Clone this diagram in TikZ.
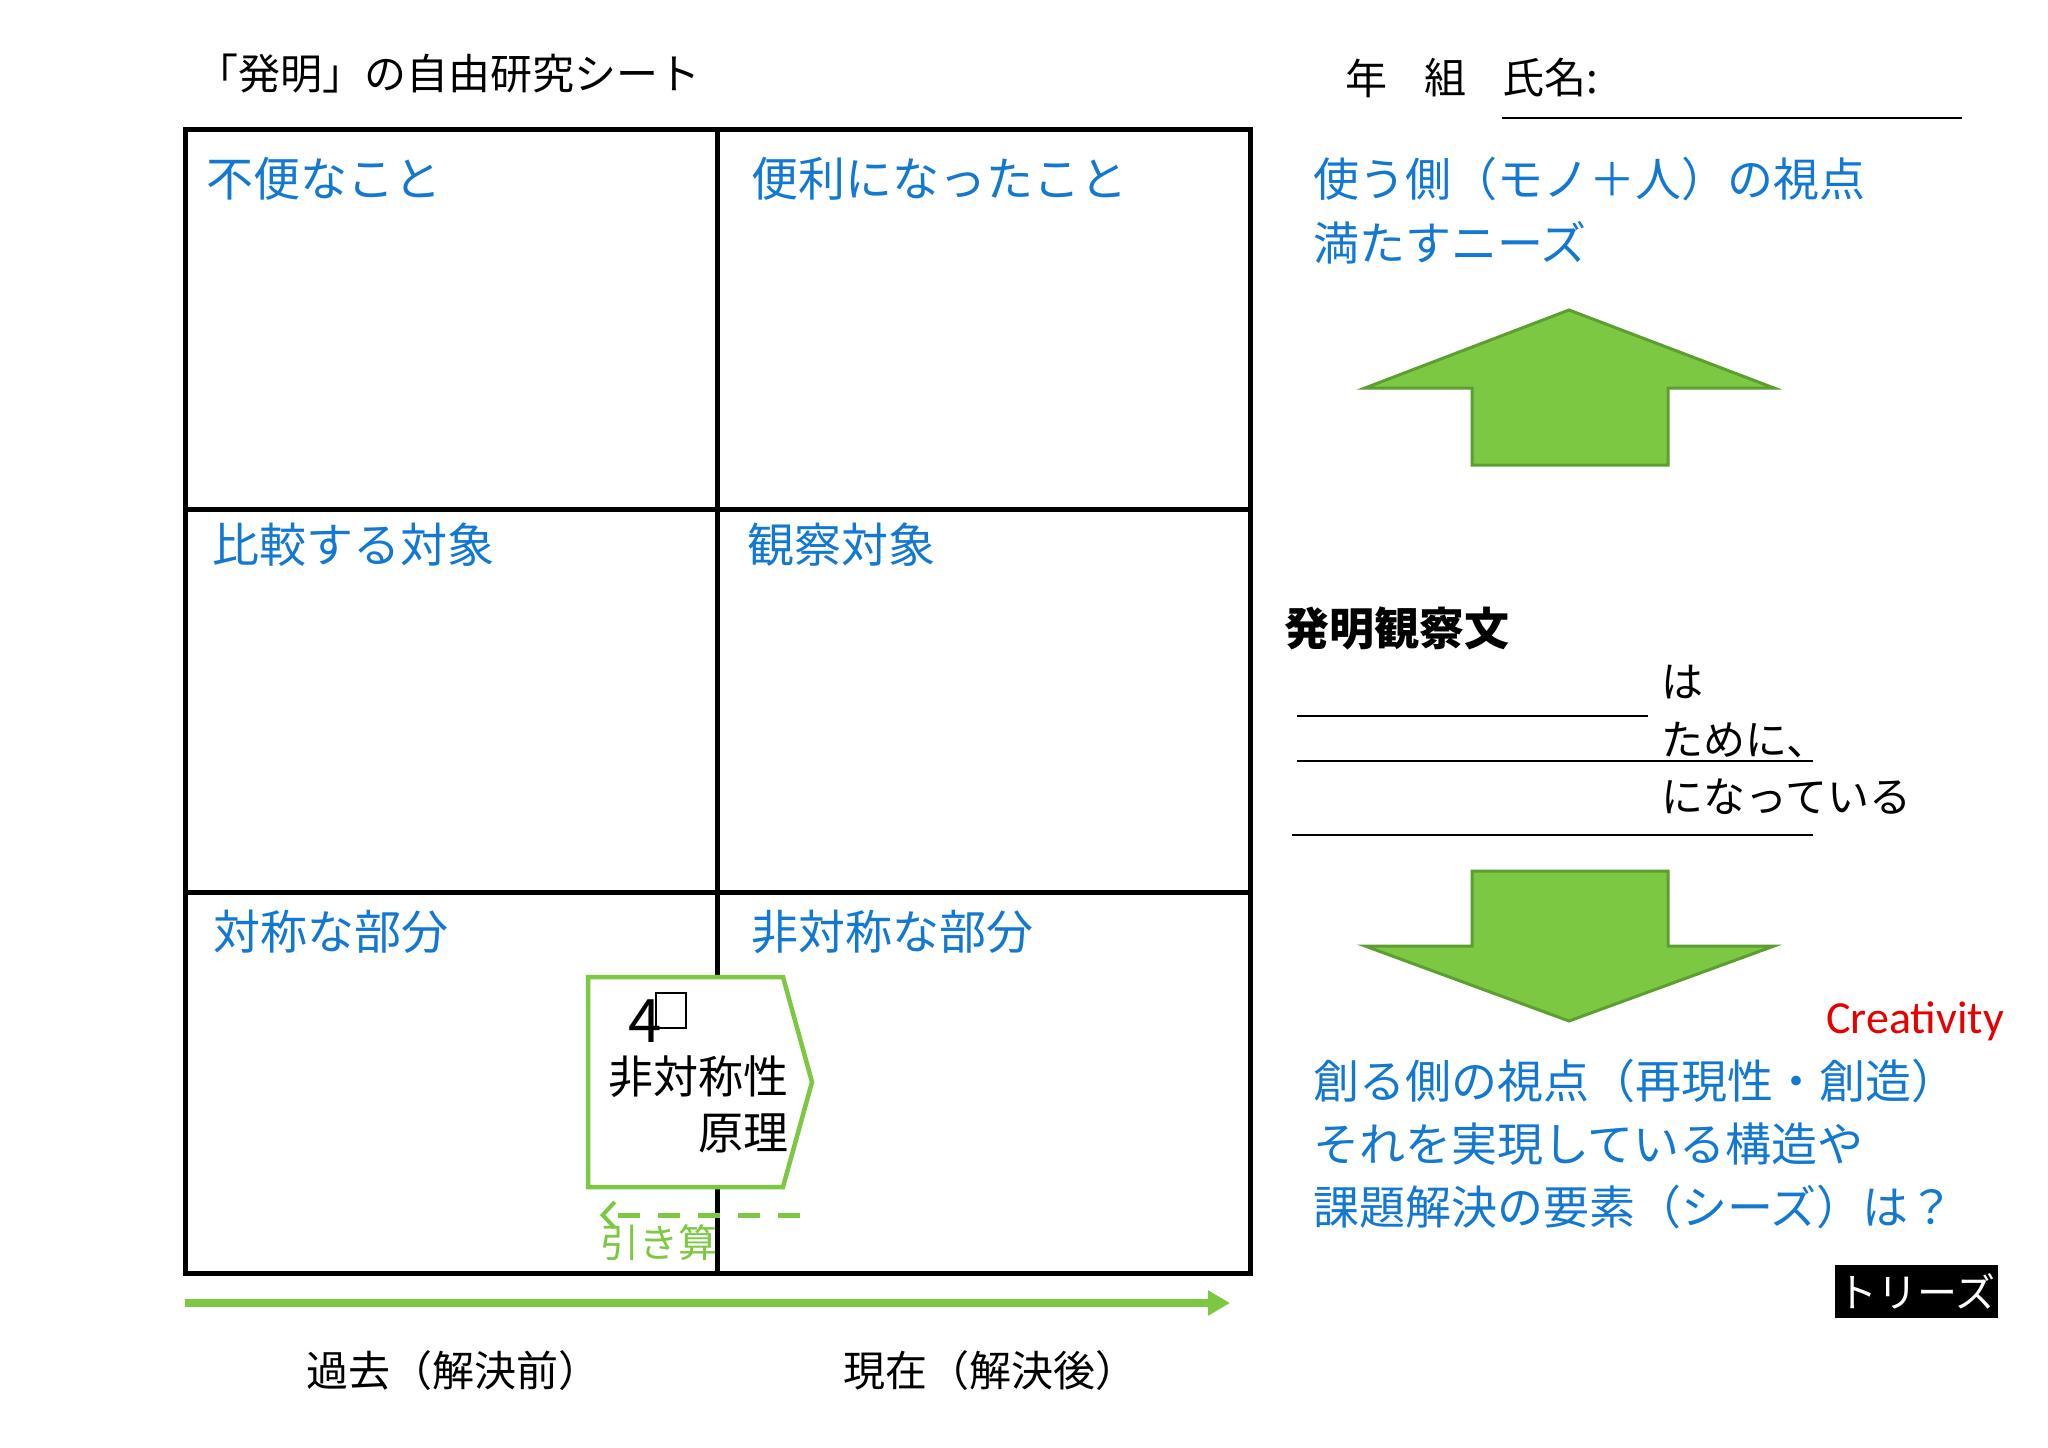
\documentclass[tikz,border=0pt]{standalone}
\usepackage{fontspec}
\setmainfont{Noto Sans CJK JP}
\newfontfamily\latinfont{Carlito}
\usetikzlibrary{arrows.meta}
\definecolor{lblblue}{RGB}{18,120,210}
\definecolor{grn}{RGB}{125,200,66}
\definecolor{grnd}{RGB}{92,158,48}
\definecolor{crred}{RGB}{230,0,0}
\begin{document}
\begin{tikzpicture}[x=1pt,y=-1pt,
  lbl/.style={anchor=west,inner sep=0,text=lblblue,font=\fontsize{47}{50}\selectfont},
  rlbl/.style={anchor=west,inner sep=0,text=lblblue,font=\fontsize{46}{48}\selectfont},
  blk/.style={anchor=west,inner sep=0,font=\fontsize{42}{44}\selectfont},
  gridline/.style={line width=5pt,black},
  uline/.style={line width=2.5pt,black},
  bigarrow/.style={fill=grn,draw=grnd,line width=3pt,line join=miter},
]
\useasboundingbox[fill=white] (0,0) rectangle (2048,1448);

% title
\node[blk] (title) at (196,74) {「発明」の自由研究シート};
\node[blk] (nen) at (1345,78) {年};
\node[blk] (kumi) at (1424,78) {組};
\node[blk] (shimei) at (1502,78) {氏名:};
\draw[uline] (1502,118) -- (1962,118);

% grid
\coordinate (tl) at (185,129);
\coordinate (br) at (1250,1273);
\draw[gridline] (tl) rectangle (br);
\draw[gridline] (717,129) -- (717,1273);
\draw[gridline] (185,509) -- (1250,509);
\draw[gridline] (185,892) -- (1250,892);

% cell labels
\node[lbl] (c1) at (206,179) {不便なこと};
\node[lbl] (c2) at (751,179) {便利になったこと};
\node[lbl] (c3) at (212,545) {比較する対象};
\node[lbl] (c4) at (747,545) {観察対象};
\node[lbl] (c5) at (213,932) {対称な部分};
\node[lbl] (c6) at (751,932) {非対称な部分};

% pentagon
\draw[draw=grn,fill=white,line width=4.5pt,line join=miter]
  (588,977) -- (783,977) -- (812,1082) -- (783,1187) -- (588,1187) -- cycle;
\node[anchor=west,inner sep=0,font=\fontsize{60}{62}\selectfont] (four) at (628,1021) {4};
\draw[line width=1.5pt] (656,993) rectangle (686,1028);
\node[anchor=east,inner sep=0,font=\fontsize{45}{48}\selectfont] (hitaisho) at (789,1077) {非対称性};
\node[anchor=east,inner sep=0,font=\fontsize{45}{48}\selectfont] (genri) at (789,1133) {原理};

% subtraction dashed arrow
\coordinate (dsR) at (800,1215);
\coordinate (dsL) at (600,1215);
\draw[grn,line width=5pt,dash pattern=on 22pt off 18pt,-{Straight Barb[length=12pt,width=26pt,line width=4pt]}] (dsR) -- (dsL);
\node[anchor=west,inner sep=0,text=grn,font=\fontsize{39}{40}\selectfont] (hikizan) at (600,1243) {引き算};

% time arrow
\coordinate (tA) at (185,1303);
\coordinate (tB) at (1230,1303);
\draw[grn,line width=8pt,-{Triangle[length=22pt,width=24pt]}] (tA) -- (tB);
\node[anchor=center,inner sep=0,font=\fontsize{42}{44}\selectfont] (kako) at (453,1371) {過去（解決前）};
\node[anchor=center,inner sep=0,font=\fontsize{42}{44}\selectfont] (genzai) at (990,1371) {現在（解決後）};

% right side
\node[rlbl] (r1) at (1313,179) {使う側（モノ＋人）の視点};
\node[rlbl] (r2) at (1313,243) {満たすニーズ};
\draw[bigarrow] (1569,310) -- (1774,388) -- (1668,388) -- (1668,465) -- (1472,465) -- (1472,388) -- (1365,388) -- cycle;

\node[anchor=west,inner sep=0,font=\fontsize{45}{46}\selectfont\bfseries] (kansatsu) at (1284,628) {発明観察文};
\node[blk] (wa) at (1661,682) {は};
\draw[uline] (1297,716) -- (1648,716);
\node[blk] (tameni) at (1661,740) {ために、};
\draw[uline] (1297,761) -- (1813,761);
\node[blk] (natte) at (1661,797) {になっている};
\draw[uline] (1292,835) -- (1813,835);

\draw[bigarrow] (1472,871) -- (1668,871) -- (1668,946) -- (1774,946) -- (1569,1021) -- (1365,946) -- (1472,946) -- cycle;

\node[anchor=west,inner sep=0,text=crred,font=\latinfont\fontsize{46}{48}\selectfont] (creat) at (1826,1021) {Creativity};
\node[rlbl] (b1) at (1313,1081) {創る側の視点（再現性・創造）};
\node[rlbl] (b2) at (1313,1144) {それを実現している構造や};
\node[rlbl] (b3) at (1313,1207) {課題解決の要素（シーズ）は？};

\node[anchor=north west,fill=black,text=white,inner sep=0,minimum width=163pt,minimum height=53pt,font=\fontsize{40}{44}\selectfont] (triz) at (1835,1265) {トリーズ};
\end{tikzpicture}
\end{document}
